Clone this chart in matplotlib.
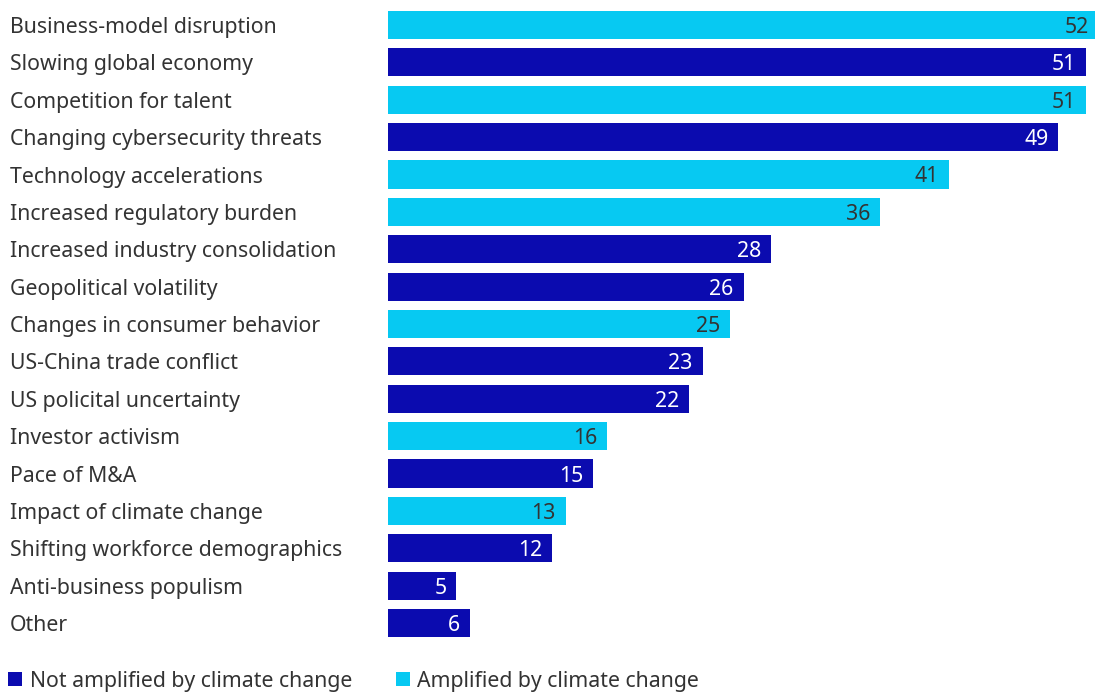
import matplotlib
matplotlib.use("Agg")
import matplotlib.pyplot as plt
from matplotlib.patches import Rectangle

categories = ["Business-model disruption", "Slowing global economy", "Competition for talent",
              "Changing cybersecurity threats", "Technology accelerations", "Increased regulatory burden",
              "Increased industry consolidation", "Geopolitical volatility", "Changes in consumer behavior",
              "US-China trade conflict", "US policital uncertainty", "Investor activism", "Pace of M&A",
              "Impact of climate change", "Shifting workforce demographics", "Anti-business populism", "Other"]
values = [52, 51, 51, 49, 41, 36, 28, 26, 25, 23, 22, 16, 15, 13, 12, 5, 6]
amplified = [True, False, True, False, True, True, False, False, True, False, False, True, False, True, False, False, False]
legend_labels = ["Not amplified by climate change", "Amplified by climate change"]

DARK = "#0B0BAF"
CYAN = "#07C9F2"
TXT = "#333333"
FS = 15.3

plt.rcParams['font.family'] = ['Noto Sans', 'DejaVu Sans']

W, H = 1095, 692
fig = plt.figure(figsize=(W/100, H/100), dpi=100)
ax = fig.add_axes([388/W, 1-641.7/H, 1-388/W, (641.7-6.3)/H])

px_per_unit = 13.68
xmax = (W-388)/px_per_unit
colors = [CYAN if a else DARK for a in amplified]
ys = list(range(len(categories)))
ax.barh(ys, values, height=0.75, color=colors, clip_on=True)
ax.set_xlim(0, xmax)
ax.set_ylim(len(categories)-0.5, -0.5)
ax.axis('off')

pad = 10/px_per_unit
for y, v, a, c in zip(ys, values, amplified, categories):
    ax.text(v - pad, y, str(v), ha='right', va='center_baseline', fontsize=FS,
            color=TXT if a else 'white', clip_on=False)
    fig.text(10/W, 1-(25+y*37.38)/H, c, ha='left', va='center_baseline', fontsize=FS, color=TXT)

# legend
for (sx, tx), lab, col in zip([(8, 30), (396, 417)], legend_labels, [DARK, CYAN]):
    fig.patches.append(Rectangle((sx/W, 1-686/H), 14/W, 14/H, transform=fig.transFigure,
                                 facecolor=col, edgecolor='none'))
    fig.text(tx/W, 1-679/H, lab, ha='left', va='center_baseline', fontsize=FS, color=TXT)

fig.savefig("out.png", dpi=100)
